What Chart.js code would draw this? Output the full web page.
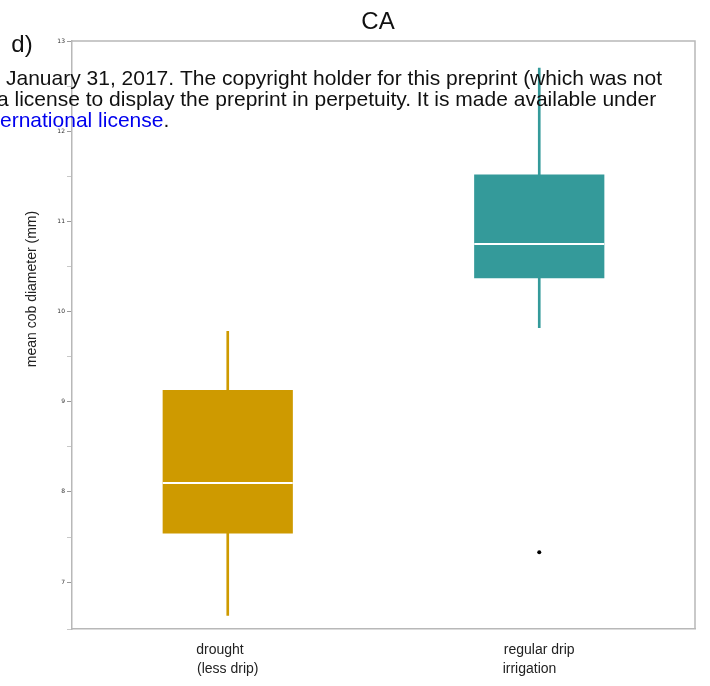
<!DOCTYPE html>
<html>
<head>
<meta charset="utf-8">
<script src="https://cdn.jsdelivr.net/npm/chart.js@4.4.1/dist/chart.umd.min.js"></script>
<style>
  html, body { margin: 0; padding: 0; background: #fff; overflow: hidden; }
  #wrap { width: 710px; height: 686px; position: relative; }
</style>
</head>
<body>
<div id="wrap"><canvas id="box-chart"></canvas></div>
<script>
// categories and box statistics
const groups = [['drought    ', '(less drip)'], ['regular drip', 'irrigation     ']];
const boxColors = ['#CE9A00', '#349A9A'];
const whiskerLow = [6.63, 9.82];
const q1 = [7.54, 10.37];
const median = [8.10, 10.75];
const q3 = [9.13, 11.52];
const whiskerHigh = [9.78, 12.70];
const outliers = [null, 7.33];
const yTicks = [7, 8, 9, 10, 11, 12, 13];

const boxes = [], whiskers = [];
for (let i = 0; i < groups.length; i++) {
  boxes.push([q1[i], q3[i]]);
  whiskers.push([whiskerLow[i], whiskerHigh[i]]);
}

const frameColor = '#b8b8b8';

// extra text: panel title, panel letter, y title and the preprint banner
const extras = {
  id: 'extras',
  afterDraw(chart) {
    const ctx = chart.ctx, a = chart.chartArea;
    ctx.save();
    // frame on top and right
    ctx.strokeStyle = frameColor;
    ctx.lineWidth = 1.5;
    ctx.beginPath();
    ctx.moveTo(a.left, a.top);
    ctx.lineTo(a.right, a.top);
    ctx.lineTo(a.right, a.bottom);
    ctx.stroke();

    ctx.fillStyle = '#111';
    ctx.textBaseline = 'middle';
    ctx.textAlign = 'center';
    ctx.font = '24px "Liberation Sans", Arial, sans-serif';
    ctx.fillText('CA', 378, 22);
    ctx.font = '24px "Liberation Sans", Arial, sans-serif';
    ctx.fillText('d)', 22, 45);

    ctx.save();
    ctx.translate(32, 289);
    ctx.rotate(-Math.PI / 2);
    ctx.font = '14px "Liberation Sans", Arial, sans-serif';
    ctx.fillStyle = '#222';
    ctx.fillText('mean cob diameter (mm)', 0, 0);
    ctx.restore();

    ctx.textAlign = 'left';
    ctx.textBaseline = 'alphabetic';
    ctx.font = '21px "Liberation Sans", Arial, sans-serif';
    ctx.fillStyle = '#111';
    ctx.fillText('January 31, 2017. The copyright holder for this preprint (which was not', 6, 85);
    ctx.fillText('a license to display the preprint in perpetuity. It is made available under', -3, 106);
    ctx.fillStyle = '#0000ee';
    const blue = 'ernational license';
    ctx.fillText(blue, 0, 127);
    const w = ctx.measureText(blue).width;
    ctx.fillStyle = '#111';
    ctx.fillText('.', w, 127);
    ctx.restore();
  }
};

new Chart(document.getElementById('box-chart'), {
  type: 'bar',
  data: {
    labels: groups,
    datasets: [
      {
        type: 'line',
        data: outliers,
        showLine: false,
        pointRadius: 2,
        pointBackgroundColor: '#000',
        pointBorderColor: '#000',
        pointBorderWidth: 0,
        order: 0
      },
      {
        type: 'line',
        data: median,
        showLine: false,
        pointStyle: 'line',
        pointRadius: 65,
        pointBorderColor: '#ffffff',
        pointBorderWidth: 2,
        clip: false,
        order: 1
      },
      {
        data: boxes,
        backgroundColor: boxColors,
        borderWidth: 0,
        grouped: false,
        barPercentage: 0.418,
        categoryPercentage: 1,
        order: 2
      },
      {
        data: whiskers,
        backgroundColor: boxColors,
        borderWidth: 0,
        grouped: false,
        barThickness: 2,
        order: 3
      }
    ]
  },
  options: {
    responsive: true,
    maintainAspectRatio: false,
    animation: false,
    layout: { autoPadding: false, padding: { top: 41, right: 15, left: 0, bottom: 0 } },
    plugins: {
      legend: { display: false },
      tooltip: { enabled: false },
      title: { display: false }
    },
    scales: {
      x: {
        type: 'category',
        offset: true,
        grid: { display: false },
        border: { color: frameColor, width: 1.5 },
        ticks: {
          color: '#222',
          padding: 4,
          maxRotation: 0,
          font: { family: '"Liberation Sans", Arial, sans-serif', size: 14, lineHeight: 1.35 }
        },
        afterFit(s) { s.height = 57; }
      },
      y: {
        min: 6.48,
        max: 13,
        grid: {
          drawOnChartArea: false,
          tickLength: 5,
          color: (c) => (c.tick && yTicks.includes(c.tick.value)) ? '#999' : '#c8c8c8'
        },
        border: { color: frameColor, width: 1.5 },
        ticks: {
          stepSize: 0.5,
          autoSkip: false,
          padding: 2,
          color: '#333',
          font: { family: '"DejaVu Sans", sans-serif', size: 6 },
          callback: (v) => yTicks.includes(v) ? String(v) : ''
        },
        afterFit(s) { s.width = 72; }
      }
    }
  },
  plugins: [extras]
});
</script>
</body>
</html>
